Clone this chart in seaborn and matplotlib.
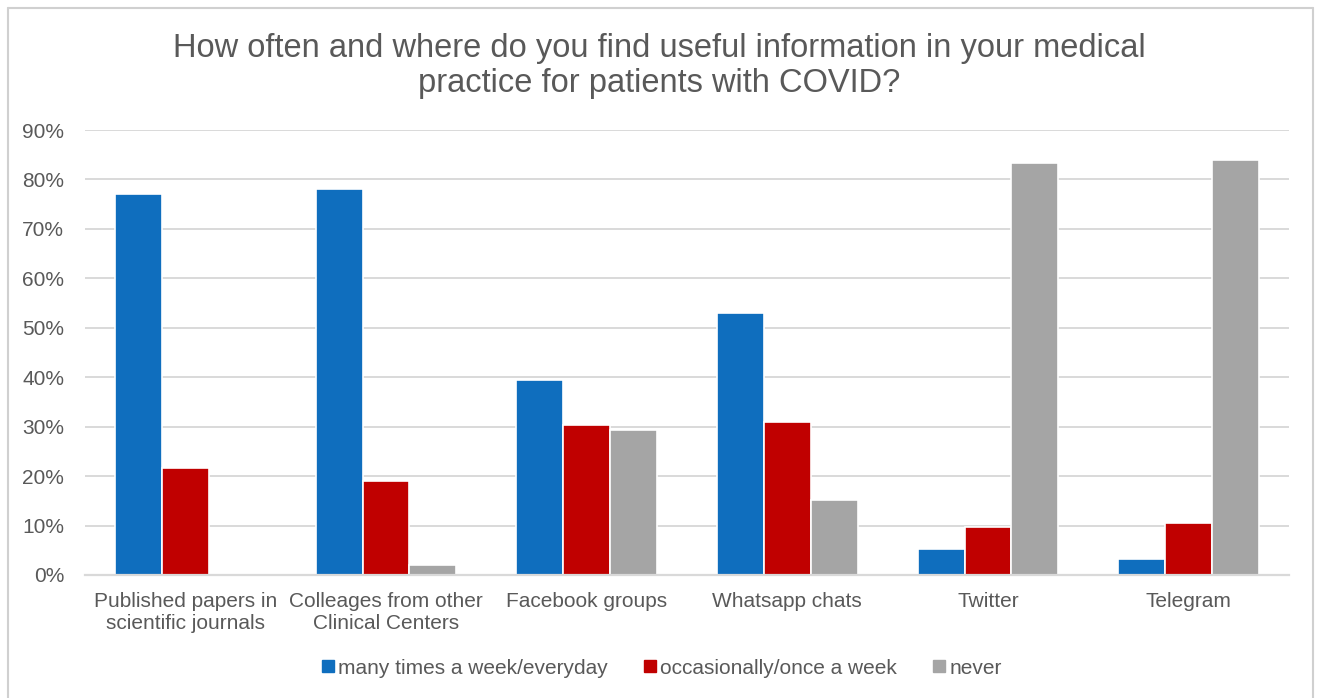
import matplotlib
matplotlib.use("Agg")
import matplotlib.pyplot as plt
import seaborn as sns
import pandas as pd
from matplotlib.lines import Line2D
from matplotlib.ticker import FuncFormatter, FixedLocator

categories = ["Published papers in\nscientific journals",
              "Colleages from other\nClinical Centers",
              "Facebook groups", "Whatsapp chats", "Twitter", "Telegram"]
series_names = ["many times a week/everyday", "occasionally/once a week", "never"]
frequent = [77.1, 78.0, 39.4, 53.0, 5.2, 3.3]
occasional = [21.7, 19.1, 30.4, 30.9, 9.8, 10.6]
never = [0.0, 2.0, 29.3, 15.1, 83.4, 83.9]
colors = ["#0F6EBE", "#C00000", "#A5A5A5"]
yticks = [0, 10, 20, 30, 40, 50, 60, 70, 80, 90]
title = "How often and where do you find useful information in your medical\npractice for patients with COVID?"

rows = []
for s, vals in zip(series_names, [frequent, occasional, never]):
    for c, v in zip(categories, vals):
        rows.append({"category": c, "series": s, "value": v})
df = pd.DataFrame(rows)

sns.set_style("white")
plt.rcParams['font.family'] = ['Liberation Sans', 'DejaVu Sans']
text_color = "#595959"
grid_color = "#D9D9D9"

fig = plt.figure(figsize=(13.19, 6.98), dpi=100)
ax = fig.add_axes([85/1319, 1-575/698, (1289-85)/1319, (575-130)/698])

sns.barplot(data=df, x="category", y="value", hue="series", order=categories,
            hue_order=series_names, palette=colors, width=0.7, ax=ax,
            edgecolor="white", linewidth=1.2, saturation=1, legend=False)

ax.set_ylim(0, 90)
ax.set_xlim(-0.5, len(categories) - 0.5)
ax.yaxis.set_major_locator(FixedLocator(yticks))
ax.yaxis.set_major_formatter(FuncFormatter(lambda v, p: f"{v:.0f}%"))
ax.grid(axis="y", color=grid_color, linewidth=1.4)
ax.set_axisbelow(True)
for sp in ["top", "right", "left"]:
    ax.spines[sp].set_visible(False)
ax.spines["bottom"].set_color(grid_color)
ax.spines["bottom"].set_linewidth(1.6)
ax.set_xlabel("")
ax.set_ylabel("")
ax.tick_params(axis="y", length=0, pad=15, labelsize=15, labelcolor=text_color)
ax.tick_params(axis="x", which="major", length=0, pad=12, labelsize=15, labelcolor=text_color)
ax.set_xticks([i - 0.5 for i in range(len(categories) + 1)], minor=True)
ax.tick_params(axis="x", which="minor", length=7, width=1.5, color=grid_color, direction="out")

fig.text(0.5, 1 - 66/698, title, ha="center", va="center", fontsize=23.5,
         color=text_color, linespacing=1.13)

handles = [Line2D([0], [0], marker="s", linestyle="none", markersize=8,
                  markerfacecolor=c, markeredgecolor=c) for c in colors]
fig.legend(handles, series_names, loc="center", bbox_to_anchor=(0.5, 1 - 668/698),
           ncol=3, frameon=False, fontsize=15, labelcolor=text_color,
           handletextpad=0.0, columnspacing=1.5, handlelength=1.0)

# outer chart border
for xs, ys in [([8, 1313], [8, 8]), ([8, 8], [8, 698]), ([1313, 1313], [8, 698])]:
    fig.add_artist(Line2D([x/1319 for x in xs], [1 - y/698 for y in ys],
                          color="#D0D0D0", linewidth=1.5, transform=fig.transFigure))

fig.savefig("out.png", dpi=100)
